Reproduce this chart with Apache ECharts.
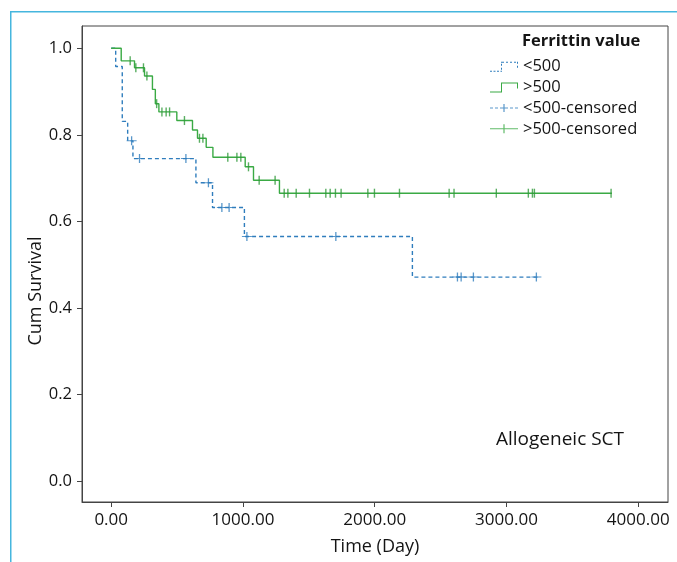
<!DOCTYPE html>
<html>
<head>
<meta charset="utf-8">
<script src="https://cdn.jsdelivr.net/npm/echarts@6/dist/echarts.min.js"></script>
<style>
html,body{margin:0;padding:0;background:#fff;}
#chart{width:677px;height:562px;}
</style>
</head>
<body>
<div id="chart"></div>
<script>
// ---- data ----
var xTicks = [0, 1000, 2000, 3000, 4000];
var yTicks = [0, 0.2, 0.4, 0.6, 0.8, 1.0];

var lowTimes = [0, 34, 84, 125, 165, 643, 769, 1011, 2286, 3245];
var lowSurv  = [1.0, 0.958, 0.831, 0.786, 0.745, 0.689, 0.632, 0.565, 0.471, 0.471];
var lowCensor = [155, 215, 567, 738, 840, 895, 1030, 1705, 2628, 2656, 2749, 3227];

var highTimes = [0, 76, 177, 253, 313, 335, 362, 498, 617, 655, 721, 772, 1017, 1080, 1277, 3800];
var highSurv  = [1.0, 0.971, 0.955, 0.936, 0.905, 0.872, 0.853, 0.833, 0.811, 0.792, 0.771, 0.748, 0.726, 0.695, 0.665, 0.665];
var highCensor = [144, 187, 245, 271, 345, 385, 417, 443, 556, 670, 696, 885, 954, 984, 1042, 1123, 1244, 1313, 1341, 1404, 1505, 1629, 1662, 1702, 1745, 1948, 1998, 2188, 2565, 2602, 2923, 3166, 3197, 3212, 3794];

var seriesNames = ['<500', '>500', '<500-censored', '>500-censored'];

// ---- helpers ----
function pairs(t, s) { return t.map(function (v, i) { return [v, s[i]]; }); }
function levelAt(t, times, surv) {
  var v = surv[0];
  for (var i = 0; i < times.length; i++) { if (times[i] <= t) v = surv[i]; }
  return v;
}
function censorPts(c, times, surv) { return c.map(function (t) { return [t, levelAt(t, times, surv)]; }); }

var BLUE = '#2f7dbd';
var GREEN = '#3aaa44';
var GREEN_DARK = '#2f9a3a';
var FONT = 'Open Sans';
var TXT = '#141414';
var plus = 'path://M0,4.45H10V5.55H0Z M4.35,0H5.65V10H4.35Z';
var bar = 'path://M0,0H1V10H0Z';

var chart = echarts.init(document.getElementById('chart'), null, {renderer: 'canvas'});
chart.setOption({
  animation: false,
  backgroundColor: '#fff',
  textStyle: {fontFamily: FONT},
  title: {
    text: 'Ferrittin value', left: 522, top: 32, padding: 0,
    textStyle: {fontFamily: FONT, fontSize: 16.5, fontWeight: 'bold', color: TXT, lineHeight: 18}
  },
  legend: {
    orient: 'vertical', left: 490, top: 57.7, padding: 0,
    itemWidth: 28, itemHeight: 10, itemGap: 2.7,
    textStyle: {fontFamily: FONT, fontSize: 16.5, lineHeight: 18, color: TXT},
    data: [
      {name: seriesNames[0], icon: 'path://M0,9H2V10H0Z M3.5,9H5.5V10H3.5Z M7,9H9V10H7Z M10.5,9H12V10H10.5Z M11,6H12V8H11Z M11,2H12V4H11Z M11,0H14V1H11Z M16,0H18V1H16Z M20,0H22V1H20Z M24,0H26V1H24Z M27,0H28V2H27Z M27,4H28V6H27Z', itemStyle: {color: BLUE, borderWidth: 0}},
      {name: seriesNames[1], icon: 'path://M0,9H12V10H0Z M11,0H12V10H11Z M11,0H28V1H11Z M27,0H28V6H27Z', itemStyle: {color: GREEN, borderWidth: 0}},
      {name: seriesNames[2], icon: 'path://M0,4.5H3V5.5H0Z M5,4.5H8V5.5H5Z M10,4.5H18V5.5H10Z M13.4,1H14.6V9H13.4Z M20,4.5H23V5.5H20Z M25,4.5H28V5.5H25Z', itemStyle: {color: BLUE, borderWidth: 0}},
      {name: seriesNames[3], icon: 'path://M0,4.5H28V5.5H0Z M13.4,0.5H14.6V9.5H13.4Z', itemStyle: {color: GREEN, borderWidth: 0}}
    ]
  },
  grid: {left: 82, top: 26, width: 586, height: 476, show: true, borderColor: '#444', borderWidth: 1, backgroundColor: '#fff'},
  xAxis: {
    type: 'value', min: -221.6, max: 4226,
    axisLine: {show: true, onZero: false, lineStyle: {color: '#444', width: 1}},
    axisTick: {show: true, length: 5, customValues: xTicks, lineStyle: {color: '#444'}},
    axisLabel: {customValues: xTicks, margin: 10, fontFamily: FONT, fontSize: 17, color: TXT,
      formatter: function (v) { return v.toFixed(2); }},
    splitLine: {show: false},
    name: 'Time (Day)', nameLocation: 'middle', nameGap: 36,
    nameTextStyle: {fontFamily: FONT, fontSize: 18, color: TXT}
  },
  yAxis: {
    type: 'value', min: -0.049, max: 1.0516,
    axisLine: {show: true, onZero: false, lineStyle: {color: '#444', width: 1}},
    axisTick: {show: true, length: 5, customValues: yTicks, lineStyle: {color: '#444'}},
    axisLabel: {customValues: yTicks, margin: 10, fontFamily: FONT, fontSize: 16.5, color: TXT,
      formatter: function (v) { return v.toFixed(1); }},
    splitLine: {show: false}
  },
  graphic: [
    {type: 'polyline', silent: true, shape: {points: [[10.75, 562], [10.75, 11.75], [677, 11.75]]},
      style: {stroke: '#45b6de', lineWidth: 1.5, fill: null}},
    {type: 'text', x: 36, y: 291, rotation: Math.PI / 2, silent: true,
      style: {text: 'Cum Survival', fontFamily: FONT, fontSize: 18, fill: TXT, align: 'center', verticalAlign: 'middle'}},
    {type: 'text', x: 560, y: 440, silent: true,
      style: {text: 'Allogeneic SCT', fontFamily: FONT, fontSize: 19, fill: TXT, align: 'center', verticalAlign: 'middle'}}
  ],
  series: [
    {name: seriesNames[0], type: 'line', step: 'end', showSymbol: false, symbol: 'none',
      data: pairs(lowTimes, lowSurv), itemStyle: {color: BLUE},
      lineStyle: {color: BLUE, width: 1.4, type: [4, 3]}, z: 2},
    {name: seriesNames[1], type: 'line', step: 'end', showSymbol: false, symbol: 'none',
      data: pairs(highTimes, highSurv), itemStyle: {color: GREEN},
      lineStyle: {color: GREEN, width: 1.4}, z: 3},
    {name: seriesNames[2], type: 'scatter', symbol: plus, symbolSize: [10, 9],
      data: censorPts(lowCensor, lowTimes, lowSurv), itemStyle: {color: BLUE}, z: 4},
    {name: seriesNames[3], type: 'scatter', symbol: bar, symbolSize: [1.4, 9],
      data: censorPts(highCensor, highTimes, highSurv), itemStyle: {color: GREEN_DARK}, z: 4}
  ]
});
</script>
</body>
</html>
